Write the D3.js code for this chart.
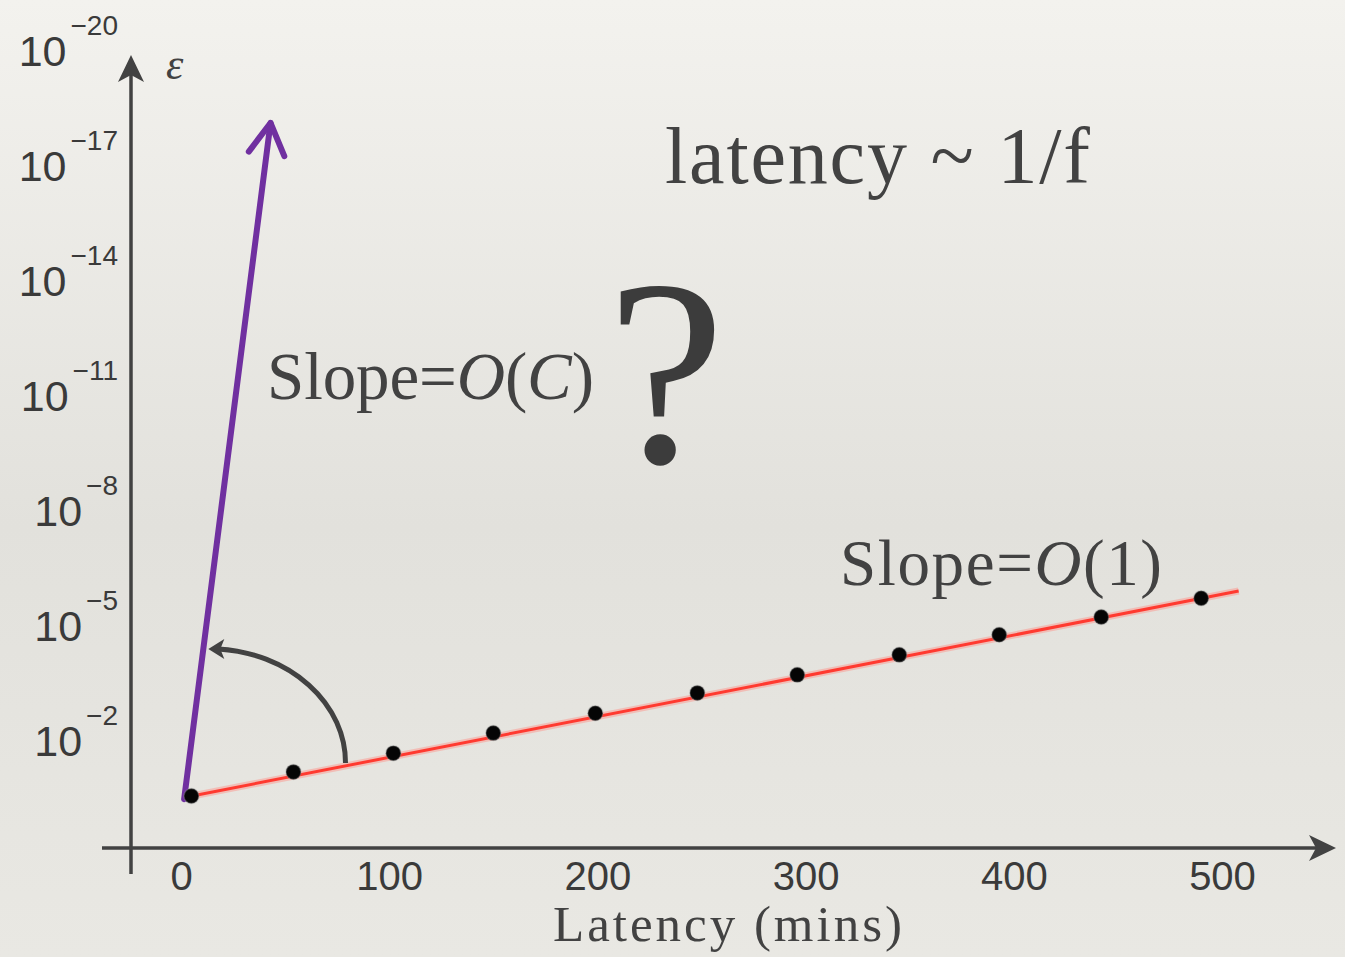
<!DOCTYPE html>
<html>
<head>
<meta charset="utf-8">
<script src="https://cdn.jsdelivr.net/npm/d3@7/dist/d3.min.js"></script>
<style>
html,body{margin:0;padding:0;overflow:hidden;background:#e8e7e2;}
</style>
</head>
<body>
<script>
// measured points (latency in mins, error rate epsilon)
var latency=[5,54,102,150,199,248,296,345,393,442,490];
var epsilon=[2.9e-1,6.8e-2,2.2e-2,6.6e-3,2.0e-3,5.9e-4,2.0e-4,6.0e-5,1.8e-5,6.2e-6,2.0e-6];
// red fit line end points
var fitLatency=[1,508];
var fitEpsilon=[3.2e-1,1.3e-6];
// purple steep arrow
var steepLatency=[1.5,43];
var steepEpsilon=[3.5e-1,8e-19];
// angle marker: starts on red line at this latency, ends on purple line at this epsilon
var arcLatency=79;
var arcEpsilon=4.2e-5;
var xTicks=[0,100,200,300,400,500];
var yTicks=[1e-2,1e-5,1e-8,1e-11,1e-14,1e-17,1e-20];
var yTickExp=["\u22122","\u22125","\u22128","\u221211","\u221214","\u221217","\u221220"];

var W=1345,H=957;
var axisX=131,axisY=848;
var serif='"Palatino Linotype","Book Antiqua",Palatino,"Liberation Serif",serif';
var sans='"Liberation Sans",Arial,sans-serif';
var ink="#424242";

var svg=d3.select("body").append("svg")
	.attr("width",W)
	.attr("height",H);

var defs=svg.append("defs");
var grad=defs.append("linearGradient").attr("id","bg")
	.attr("x1",0).attr("y1",0).attr("x2",0).attr("y2",1);
grad.append("stop").attr("offset","0%").attr("stop-color","#f3f2ee");
grad.append("stop").attr("offset","55%").attr("stop-color","#e2e1dc");
grad.append("stop").attr("offset","100%").attr("stop-color","#e9e8e3");
svg.append("rect").attr("width",W).attr("height",H).attr("fill","url(#bg)");

var x=d3.scaleLinear().domain([0,500]).range([181,1222]);
var y=d3.scaleLog().domain([1e-2,1e-20]).range([740,50]);

// x tick labels
var xAxis=svg.append("g")
	.attr("transform","translate(0,"+axisY+")")
	.call(d3.axisBottom(x).tickValues(xTicks).tickSize(0).tickPadding(0).tickFormat(d3.format("d")));
xAxis.select(".domain").remove();
xAxis.selectAll("text")
	.attr("y",42).attr("dy",null)
	.style("font-family",sans).style("font-size","40px").attr("fill","#3a3a3a");

// y tick labels as 10^-n
var yAxis=svg.append("g")
	.attr("transform","translate(118,0)")
	.call(d3.axisLeft(y).tickValues(yTicks).tickSize(0).tickPadding(0).tickFormat(function(){return "";}));
yAxis.select(".domain").remove();
yAxis.selectAll("text").each(function(d,i){
	var t=d3.select(this).attr("x",0).attr("dy",null).attr("y",15)
		.attr("text-anchor","end")
		.style("font-family",sans).attr("fill","#3a3a3a");
	t.append("tspan").style("font-size","43px").text("10");
	t.append("tspan").attr("dx",4).attr("dy",-31).style("font-size","28px").text(yTickExp[i]);
});

// axes lines with arrow heads
svg.append("line")
	.attr("x1",axisX).attr("y1",874).attr("x2",axisX).attr("y2",70)
	.attr("stroke",ink).attr("stroke-width",3.5);
svg.append("path")
	.attr("d","M"+axisX+",55 L"+(axisX+13)+",82 L"+axisX+",75 L"+(axisX-13)+",82 Z")
	.attr("fill",ink);
svg.append("line")
	.attr("x1",102).attr("y1",axisY).attr("x2",1320).attr("y2",axisY)
	.attr("stroke",ink).attr("stroke-width",3.5);
svg.append("path")
	.attr("d","M1336,"+axisY+" L1309,"+(axisY-13)+" L1316,"+axisY+" L1309,"+(axisY+13)+" Z")
	.attr("fill",ink);

// axis titles
svg.append("text")
	.attr("x",166).attr("y",79)
	.style("font-family",serif).style("font-style","italic").style("font-size","44px")
	.attr("fill",ink).text("\u03b5");
svg.append("text")
	.attr("x",553).attr("y",941)
	.attr("textLength",349).attr("lengthAdjust","spacing")
	.style("font-family",serif).style("font-size","51px")
	.attr("fill",ink).text("Latency (mins)");

// red fit line
var line=d3.line()
	.x(function(d){return x(d[0]);})
	.y(function(d){return y(d[1]);});
var fit=d3.zip(fitLatency,fitEpsilon);
svg.append("path").datum(fit).attr("d",line)
	.attr("stroke","#ff8f86").attr("stroke-opacity",0.45).attr("stroke-width",7).attr("fill","none");
svg.append("path").datum(fit).attr("d",line)
	.attr("stroke","#ff3a30").attr("stroke-width",3).attr("fill","none");

// purple steep arrow
var steep=d3.zip(steepLatency,steepEpsilon);
svg.append("path").datum(steep).attr("d",line)
	.attr("stroke","#7030a0").attr("stroke-width",6).attr("stroke-linecap","round").attr("fill","none");
var bx=x(steepLatency[0]),by=y(steepEpsilon[0]);
var tx=x(steepLatency[1]),ty=y(steepEpsilon[1]);
var len=Math.hypot(bx-tx,by-ty),ux=(bx-tx)/len,uy=(by-ty)/len;
function arm(a){
	var c=Math.cos(a),s=Math.sin(a);
	return [tx+36*(ux*c-uy*s),ty+36*(ux*s+uy*c)];
}
var a1=arm(0.52),a2=arm(-0.52);
svg.append("path")
	.attr("d","M"+a1[0]+","+a1[1]+" L"+tx+","+ty+" L"+a2[0]+","+a2[1])
	.attr("stroke","#7030a0").attr("stroke-width",6)
	.attr("stroke-linecap","round").attr("stroke-linejoin","round").attr("fill","none");

// points
svg.selectAll(".pt").data(d3.zip(latency,epsilon)).enter().append("circle")
	.attr("class","pt")
	.attr("cx",function(d){return x(d[0]);})
	.attr("cy",function(d){return y(d[1]);})
	.attr("r",7.5)
	.attr("fill","#050505")
	.attr("stroke","#9a9a9a").attr("stroke-opacity",0.35).attr("stroke-width",1.5);

// angle marker (quarter ellipse from red line to purple line)
var sx=x(arcLatency);
var sy=y(fitEpsilon[0])+(sx-x(fitLatency[0]))*(y(fitEpsilon[1])-y(fitEpsilon[0]))/(x(fitLatency[1])-x(fitLatency[0]))-3;
var ey=y(arcEpsilon);
var ex=bx+(tx-bx)*(by-ey)/(by-ty)+5;
svg.append("path")
	.attr("d","M"+sx+","+sy+" A"+(sx-ex)+","+(sy-ey)+" 0 0 0 "+(ex+10)+","+ey)
	.attr("stroke",ink).attr("stroke-width",5).attr("fill","none");
svg.append("path")
	.attr("d","M"+ex+","+ey+" L"+(ex+16)+","+(ey-10)+" L"+(ex+12)+","+ey+" L"+(ex+16)+","+(ey+10)+" Z")
	.attr("fill",ink);

// annotations
svg.append("text")
	.attr("x",665).attr("y",183)
	.attr("textLength",425).attr("lengthAdjust","spacing")
	.style("font-family",serif).style("font-size","80px")
	.attr("fill",ink).text("latency ~ 1/f");

var s1=svg.append("text")
	.attr("x",267).attr("y",399)
	.attr("textLength",327).attr("lengthAdjust","spacing")
	.style("font-family",serif).style("font-size","67px").attr("fill",ink);
s1.append("tspan").text("Slope=");
s1.append("tspan").style("font-style","italic").text("O");
s1.append("tspan").text("(");
s1.append("tspan").style("font-style","italic").text("C");
s1.append("tspan").text(")");

svg.append("text")
	.attr("x",666).attr("y",462)
	.attr("text-anchor","middle")
	.style("font-family",serif).style("font-size","266px")
	.attr("fill","#3c3c3c").text("?");

var s2=svg.append("text")
	.attr("x",840).attr("y",585)
	.attr("textLength",322).attr("lengthAdjust","spacing")
	.style("font-family",serif).style("font-size","65px").attr("fill",ink);
s2.append("tspan").text("Slope=");
s2.append("tspan").style("font-style","italic").text("O");
s2.append("tspan").text("(1)");
</script>
</body>
</html>
